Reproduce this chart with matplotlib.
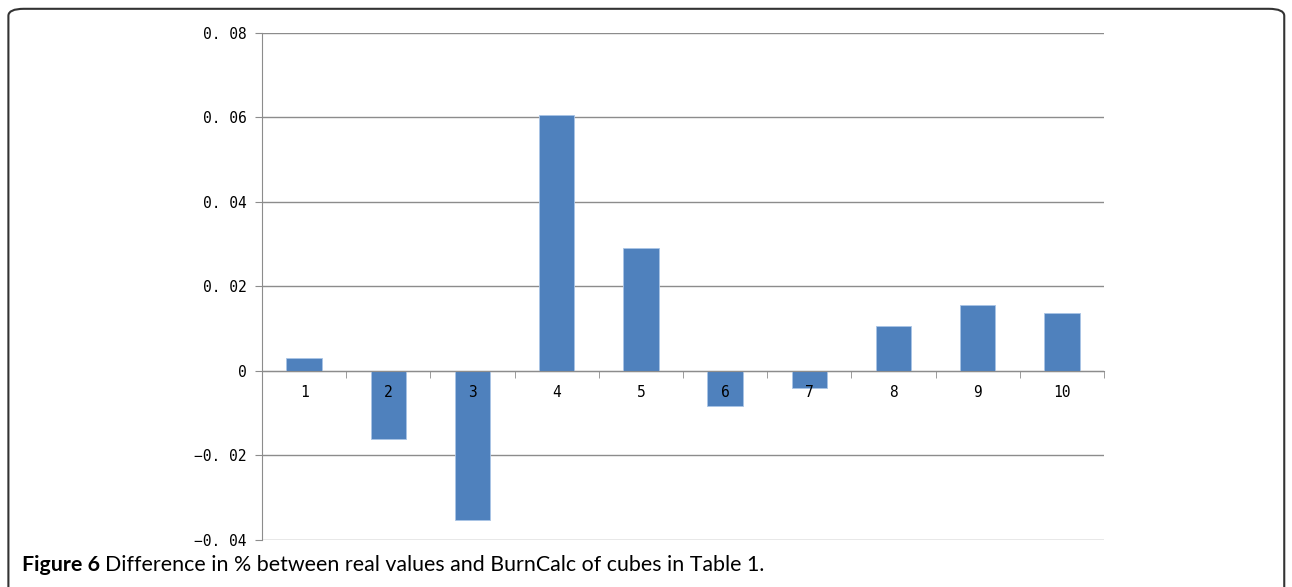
import numpy as np
import matplotlib.pyplot as plt
from matplotlib.patches import FancyBboxPatch
from matplotlib.ticker import FixedLocator

cubes = ['1', '2', '3', '4', '5', '6', '7', '8', '9', '10']
diff = [0.0030, -0.0161, -0.0353, 0.0605, 0.0291, -0.0083, -0.0041, 0.0106, 0.0155, 0.0138]
yticks = [-0.04, -0.02, 0, 0.02, 0.04, 0.06, 0.08]
ytick_labels = ['\u22120. 04', '\u22120. 02', '0', '0. 02', '0. 04', '0. 06', '0. 08']

fig = plt.figure(figsize=(12.92, 5.87), dpi=100)
fig.patches.append(FancyBboxPatch((0.0065, -0.05), 0.9875, 1.035,
                                  boxstyle='round,pad=0,rounding_size=0.012',
                                  transform=fig.transFigure, fill=False,
                                  edgecolor='#333333', linewidth=1.5))

ax = fig.add_axes([0.2028, 0.0801, 0.6517, 0.8637])
x = np.arange(len(cubes))
ax.bar(x, diff, width=0.42, color='#4F81BD', edgecolor='#A9C4E6', linewidth=0.6, zorder=3)

ax.set_xlim(-0.5, len(cubes) - 0.5)
ax.set_ylim(-0.04, 0.08)
ax.set_yticks(yticks)
ax.set_yticklabels(ytick_labels, fontsize=10.5, family='DejaVu Sans Mono')
ax.yaxis.grid(True, color='#8c8c8c', linewidth=1.0, zorder=0)

ax.spines['top'].set_visible(False)
ax.spines['right'].set_visible(False)
ax.spines['left'].set_color('#8c8c8c')
ax.spines['bottom'].set_position(('data', 0))
ax.spines['bottom'].set_color('#8c8c8c')
ax.spines['bottom'].set_zorder(4)

# category labels drawn as text so they sit on top of the bars
ax.set_xticks([])
ax.xaxis.set_minor_locator(FixedLocator(np.arange(0.5, len(cubes), 1.0)))
ax.tick_params(axis='x', which='minor', length=5, color='#8c8c8c', direction='out')
for xi, lab in zip(x, cubes):
    ax.annotate(lab, (xi, 0), xytext=(0, -19), textcoords='offset points',
                ha='center', va='baseline', fontsize=10.5, family='DejaVu Sans Mono', zorder=6)
ax.tick_params(axis='y', length=5, color='#8c8c8c', pad=6)

fig.canvas.draw()
t1 = fig.text(0.017, 0.028, 'Figure 6', fontsize=15.4, fontweight='bold', family='Lato', va='baseline')
bb = t1.get_window_extent(fig.canvas.get_renderer())
fig.text((bb.x1 + 5) / fig.bbox.width, 0.028,
         'Difference in % between real values and BurnCalc of cubes in Table 1.',
         fontsize=15.4, family='Lato', va='baseline')

fig.savefig('out.png', dpi=100)
